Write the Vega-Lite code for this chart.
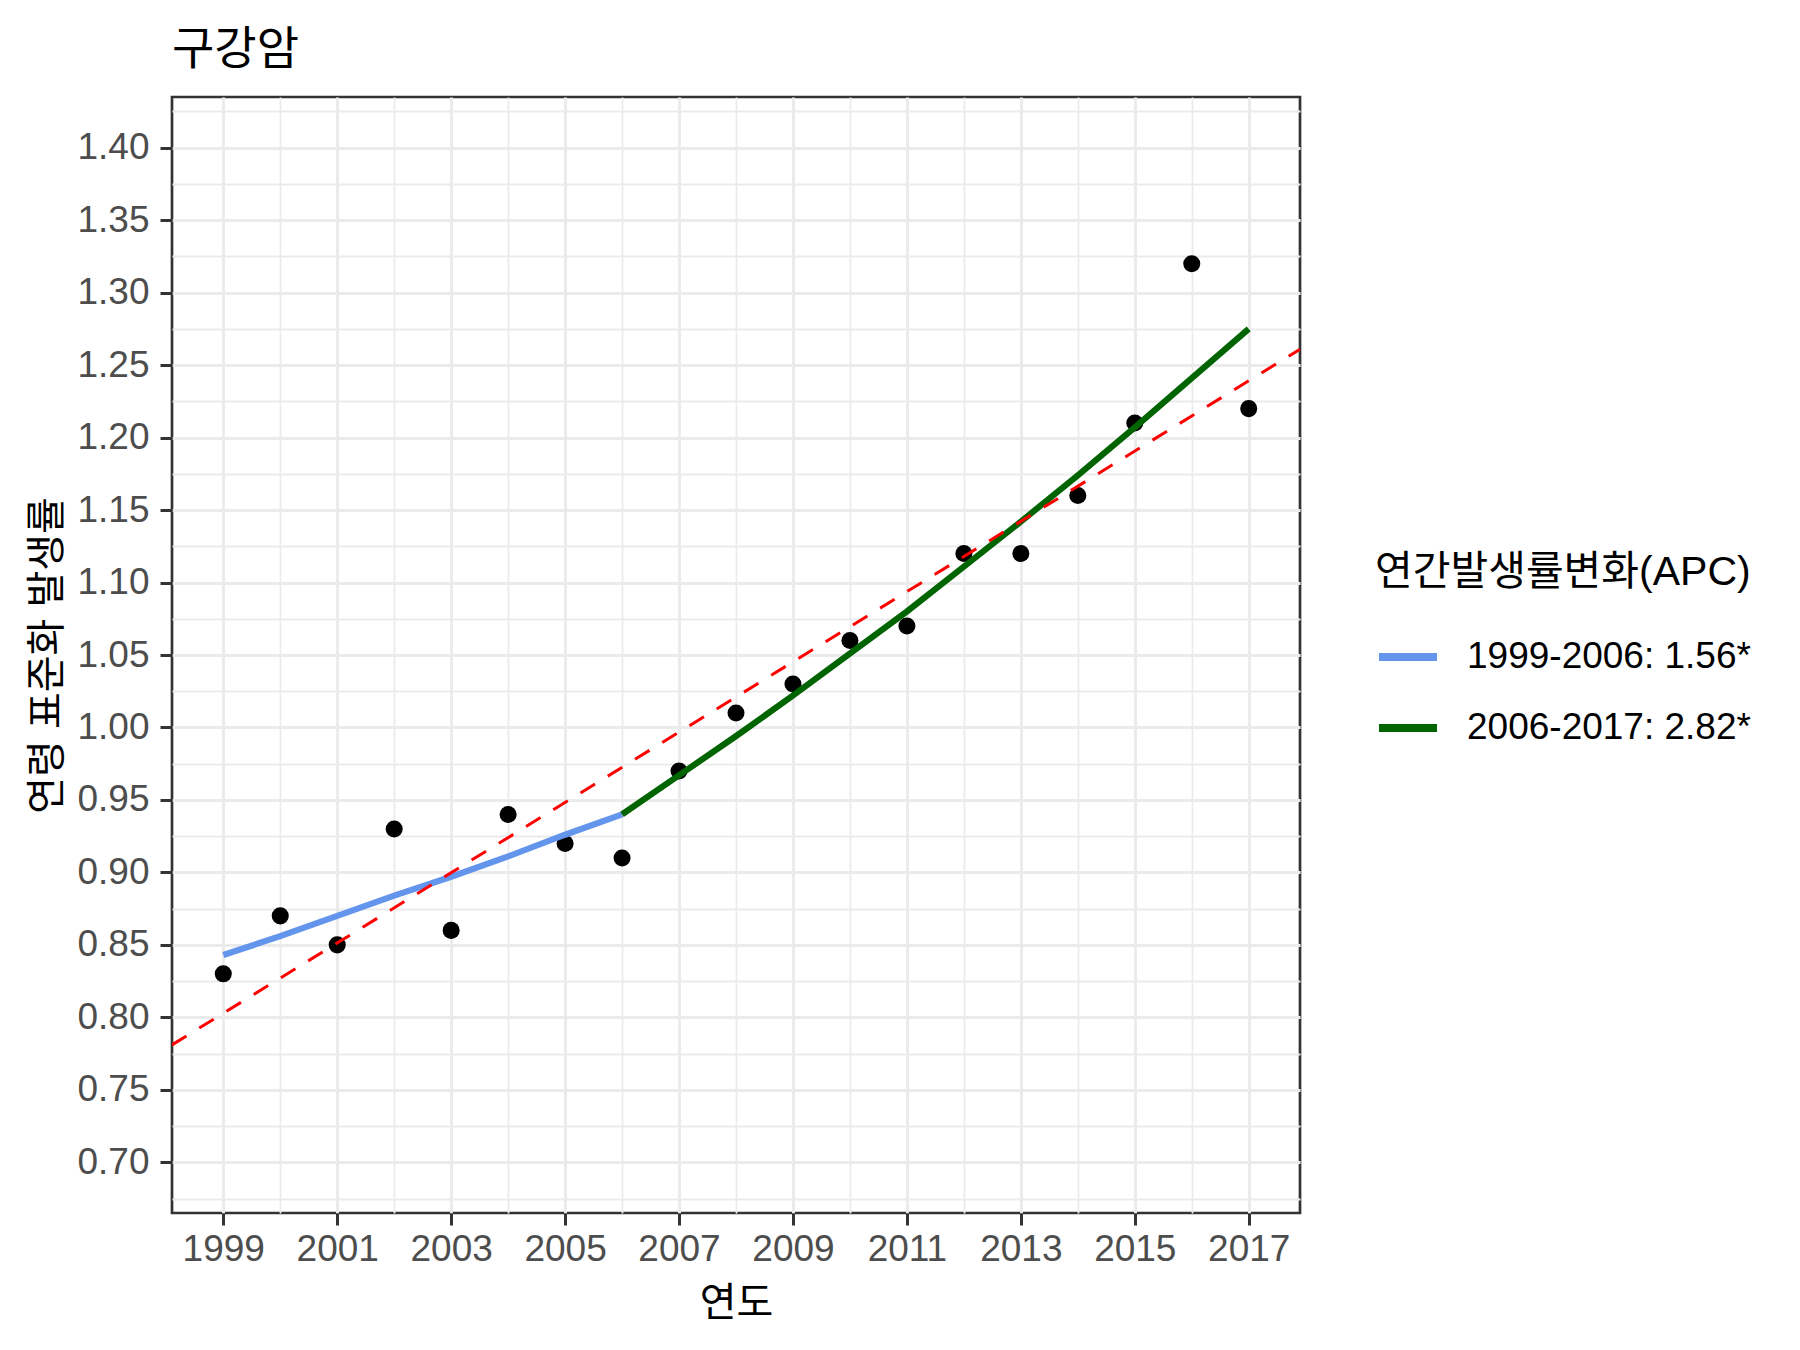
{
  "$schema": "https://vega.github.io/schema/vega-lite/v6.json",
  "description": "구강암 연령 표준화 발생률 joinpoint",
  "width": 1128,
  "height": 1116,
  "autosize": {"type": "none"},
  "padding": {"left": 172, "top": 97, "right": 500, "bottom": 137},
  "background": "white",
  "title": {
    "text": "구강암",
    "anchor": "start",
    "frame": "group",
    "font": "Liberation Sans, Noto Sans CJK KR",
    "fontSize": 46,
    "fontWeight": "normal",
    "color": "black",
    "baseline": "alphabetic",
    "offset": -18
  },
  "datasets": {
    "obs": [
      {"year": 1999, "rate": 0.83},
      {"year": 2000, "rate": 0.87},
      {"year": 2001, "rate": 0.85},
      {"year": 2002, "rate": 0.93},
      {"year": 2003, "rate": 0.86},
      {"year": 2004, "rate": 0.94},
      {"year": 2005, "rate": 0.92},
      {"year": 2006, "rate": 0.91},
      {"year": 2007, "rate": 0.97},
      {"year": 2008, "rate": 1.01},
      {"year": 2009, "rate": 1.03},
      {"year": 2010, "rate": 1.06},
      {"year": 2011, "rate": 1.07},
      {"year": 2012, "rate": 1.12},
      {"year": 2013, "rate": 1.12},
      {"year": 2014, "rate": 1.16},
      {"year": 2015, "rate": 1.21},
      {"year": 2016, "rate": 1.32},
      {"year": 2017, "rate": 1.22}
    ],
    "fit": [
      {"year": 1999, "rate": 0.843, "segment": "1999-2006: 1.56*"},
      {"year": 2000, "rate": 0.856, "segment": "1999-2006: 1.56*"},
      {"year": 2001, "rate": 0.870, "segment": "1999-2006: 1.56*"},
      {"year": 2002, "rate": 0.884, "segment": "1999-2006: 1.56*"},
      {"year": 2003, "rate": 0.897, "segment": "1999-2006: 1.56*"},
      {"year": 2004, "rate": 0.911, "segment": "1999-2006: 1.56*"},
      {"year": 2005, "rate": 0.926, "segment": "1999-2006: 1.56*"},
      {"year": 2006, "rate": 0.940, "segment": "1999-2006: 1.56*"},
      {"year": 2006, "rate": 0.940, "segment": "2006-2017: 2.82*"},
      {"year": 2007, "rate": 0.967, "segment": "2006-2017: 2.82*"},
      {"year": 2008, "rate": 0.994, "segment": "2006-2017: 2.82*"},
      {"year": 2009, "rate": 1.022, "segment": "2006-2017: 2.82*"},
      {"year": 2010, "rate": 1.051, "segment": "2006-2017: 2.82*"},
      {"year": 2011, "rate": 1.080, "segment": "2006-2017: 2.82*"},
      {"year": 2012, "rate": 1.111, "segment": "2006-2017: 2.82*"},
      {"year": 2013, "rate": 1.142, "segment": "2006-2017: 2.82*"},
      {"year": 2014, "rate": 1.174, "segment": "2006-2017: 2.82*"},
      {"year": 2015, "rate": 1.207, "segment": "2006-2017: 2.82*"},
      {"year": 2016, "rate": 1.241, "segment": "2006-2017: 2.82*"},
      {"year": 2017, "rate": 1.275, "segment": "2006-2017: 2.82*"}
    ],
    "trend": [
      {"year": 1998.1, "rate": 0.781},
      {"year": 2017.9, "rate": 1.261}
    ]
  },
  "encoding": {
    "x": {
      "field": "year",
      "type": "quantitative",
      "scale": {"domain": [1998.1, 2017.9], "nice": false, "zero": false},
      "axis": {
        "title": "연도",
        "values": [1999, 2000, 2001, 2002, 2003, 2004, 2005, 2006, 2007, 2008, 2009, 2010, 2011, 2012, 2013, 2014, 2015, 2016, 2017],
        "format": "d",
        "labelExpr": "datum.value % 2 == 1 ? datum.label : ''",
        "labelOverlap": false,
        "labelFlush": false,
        "grid": true,
        "gridColor": "#EBEBEB",
        "gridWidth": {"condition": {"test": "datum.value % 2 == 1", "value": 3}, "value": 1.8},
        "tickOpacity": {"condition": {"test": "datum.value % 2 == 1", "value": 1}, "value": 0},
        "tickSize": 12,
        "tickWidth": 3,
        "tickColor": "#333333",
        "domain": false,
        "labelFontSize": 37,
        "labelColor": "#4D4D4D",
        "labelPadding": 6,
        "titleFontSize": 40,
        "titleFontWeight": "normal",
        "titleColor": "black",
        "titlePadding": 16
      }
    },
    "y": {
      "field": "rate",
      "type": "quantitative",
      "scale": {"domain": [0.665, 1.435], "nice": false, "zero": false},
      "axis": {
        "title": "연령 표준화 발생률",
        "values": [0.675, 0.7, 0.725, 0.75, 0.775, 0.8, 0.825, 0.85, 0.875, 0.9, 0.925, 0.95, 0.975, 1.0, 1.025, 1.05, 1.075, 1.1, 1.125, 1.15, 1.175, 1.2, 1.225, 1.25, 1.275, 1.3, 1.325, 1.35, 1.375, 1.4, 1.425],
        "labelExpr": "round(datum.value * 1000) % 50 == 0 ? format(datum.value, '.2f') : ''",
        "labelOverlap": false,
        "labelFlush": false,
        "grid": true,
        "gridColor": "#EBEBEB",
        "gridWidth": {"condition": {"test": "round(datum.value * 1000) % 50 == 0", "value": 3}, "value": 1.8},
        "tickOpacity": {"condition": {"test": "round(datum.value * 1000) % 50 == 0", "value": 1}, "value": 0},
        "tickSize": 12,
        "tickWidth": 3,
        "tickColor": "#333333",
        "domain": false,
        "labelFontSize": 37,
        "labelColor": "#4D4D4D",
        "labelPadding": 11,
        "titleFontSize": 40,
        "titleFontWeight": "normal",
        "titleColor": "black",
        "titlePadding": 9
      }
    }
  },
  "layer": [
    {
      "data": {"name": "obs"},
      "mark": {"type": "circle", "size": 290, "color": "black", "opacity": 1}
    },
    {
      "data": {"name": "fit"},
      "mark": {"type": "line", "strokeWidth": 6.2},
      "encoding": {
        "color": {
          "field": "segment",
          "type": "nominal",
          "scale": {
            "domain": ["1999-2006: 1.56*", "2006-2017: 2.82*"],
            "range": ["#6495ED", "#006400"]
          },
          "legend": {
            "title": "연간발생률변화(APC)",
            "orient": "none",
            "legendX": 1203,
            "legendY": 456,
            "padding": 0,
            "titleFontSize": 41,
            "titleFontWeight": "normal",
            "titleColor": "black",
            "titlePadding": 30,
            "titleLimit": 600,
            "labelFontSize": 37,
            "labelColor": "black",
            "labelOffset": 26,
            "labelLimit": 600,
            "symbolType": "stroke",
            "symbolSize": 3364,
            "symbolStrokeWidth": 8,
            "rowPadding": 20,
            "encode": {
              "symbols": {"update": {"strokeWidth": {"value": 8}}}
            }
          }
        }
      }
    },
    {
      "data": {"name": "trend"},
      "mark": {"type": "line", "color": "red", "strokeWidth": 3, "strokeDash": [17, 15], "clip": true}
    }
  ],
  "config": {
    "font": "Liberation Sans, Noto Sans CJK KR",
    "view": {"stroke": "#333333", "strokeWidth": 2.7},
    "axis": {
      "labelFont": "Liberation Sans, Noto Sans CJK KR",
      "titleFont": "Liberation Sans, Noto Sans CJK KR"
    },
    "legend": {
      "labelFont": "Liberation Sans, Noto Sans CJK KR",
      "titleFont": "Liberation Sans, Noto Sans CJK KR"
    }
  }
}
